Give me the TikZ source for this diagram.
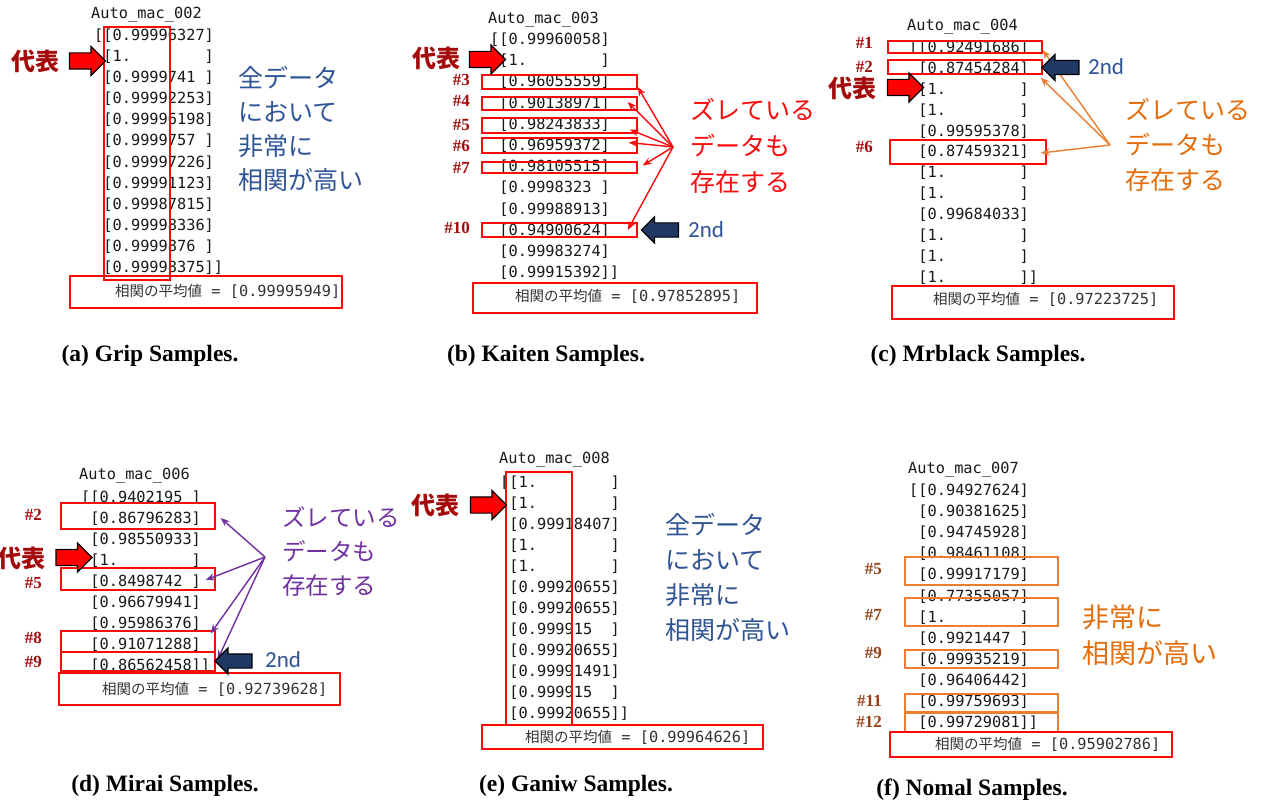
\documentclass[tikz,border=0pt]{standalone}
\usepackage{fontspec}
\setmainfont{Liberation Serif}
\newfontfamily\mono{DejaVu Sans Mono}
\newfontfamily\cjk{Noto Sans CJK JP}
\newfontfamily\sansf{Carlito}
\usetikzlibrary{shapes.arrows,arrows.meta,fit,calc}
\definecolor{boxred}{RGB}{250,10,10}
\definecolor{darkred}{RGB}{165,10,10}
\definecolor{bluetxt}{RGB}{47,84,150}
\definecolor{navy}{RGB}{31,56,100}
\definecolor{orgline}{RGB}{237,125,49}
\definecolor{orgtxt}{RGB}{228,108,10}
\definecolor{purp}{RGB}{112,48,160}
\definecolor{brownlbl}{RGB}{150,65,20}
\tikzset{
 row/.style={anchor=base west, inner sep=0, font=\mono\fontsize{15.3}{18}\selectfont, text=black!90},
 colbox/.style={draw=boxred, line width=1.6pt, inner sep=0},
 rbox/.style={draw=boxred, line width=1.4pt, inner sep=0},
 obox/.style={draw=orgline, line width=1.6pt, inner sep=0},
 meanbox/.style={draw=boxred, line width=1.8pt, inner sep=0},
 meantext/.style={anchor=west, inner sep=0, text=black!80},
 daihyo/.style={font=\cjk\bfseries\fontsize{24}{26}\selectfont, text=darkred, inner sep=0},
 redarrow/.style={single arrow, draw=black, line width=1.2pt, fill=red, minimum height=36pt, inner xsep=0pt, inner ysep=7.5pt, single arrow head extend=6.5pt},
 navyarrow/.style={single arrow, shape border rotate=180, draw=black, line width=1.2pt, fill=navy, minimum height=37pt, inner xsep=0pt, inner ysep=6.5pt, single arrow head extend=6pt},
 hashlbl/.style={anchor=east, font=\bfseries\fontsize{17}{18}\selectfont, text=darkred, inner sep=0},
 note/.style={anchor=west, align=left, inner sep=0},
 caption/.style={anchor=base, font=\bfseries\fontsize{23.5}{26}\selectfont, inner sep=0},
 fan/.style={line width=1.4pt, -{Stealth[length=9pt,width=7pt]}},
 second/.style={anchor=west, inner sep=0, font=\sansf\fontsize{23}{26}\selectfont, text=bluetxt}
}
\newcommand{\meanstr}[1]{{\cjk\fontsize{14.5}{16}\selectfont 相関の平均値}{\mono\fontsize{15.3}{16}\selectfont~=~[#1]}}
\begin{document}
\begin{tikzpicture}[x=1pt,y=-1pt]
\fill[white] (0,0) rectangle (1266,805);
\useasboundingbox (0,0) rectangle (1266,805);

%% ---------------- (a) ----------------
\node[row] (ta) at (91,18.5) {Auto\_mac\_002};
\foreach \t [count=\i from 0] in {[[0.99996327],~[1.~~~~~~~~],~[0.9999741~],~[0.99992253],~[0.99996198],~[0.9999757~],~[0.99997226],~[0.99991123],~[0.99987815],~[0.99998336],~[0.9999876~],~[0.99998375]]}
  \node[row] (a\i) at (94,{40.5+21.1*\i}) {\t};
\node[colbox, fit={(104,27) (170,280)}] (colA) {};
\node[meanbox, fit={(70,276) (342,308)}] (mboxA) {};
\node[meantext] (meanA) at (115,291) {\meanstr{0.99995949}};
\node[daihyo] (dA) at (36,61) {代表};
\node[redarrow] (arA) at (83.5,61) {};
\node[note, text=bluetxt, font=\cjk\fontsize{25}{34}\selectfont] (noteA) at (238,128.5) {全データ\\において\\非常に\\相関が高い};
\node[caption] (capA) at (150,361) {(a) Grip Samples.};

%% ---------------- (b) ----------------
\node[row] (tb) at (488,23.5) {Auto\_mac\_003};
\foreach \t [count=\i from 0] in {[[0.99960058],~[1.~~~~~~~~],~[0.96055559],~[0.90138971],~[0.98243833],~[0.96959372],~[0.98105515],~[0.9998323~],~[0.99988913],~[0.94900624],~[0.99983274],~[0.99915392]]}
  \node[row] (b\i) at (490,{44.5+21.2*\i}) {\t};
\node[rbox, fit={(482,75) (637,89)}] (bb3) {};
\node[rbox, fit={(482,97) (637,110)}] (bb4) {};
\node[rbox, fit={(482,118) (637,133)}] (bb5) {};
\node[rbox, fit={(482,138) (637,153)}] (bb6) {};
\node[rbox, fit={(482,162) (637,173)}] (bb7) {};
\node[rbox, fit={(482,223) (637,237)}] (bb10) {};
\node[hashlbl] (lb3) at (470,80) {\#3};
\node[hashlbl] (lb4) at (470,101) {\#4};
\node[hashlbl] (lb5) at (470,125) {\#5};
\node[hashlbl] (lb6) at (470,146) {\#6};
\node[hashlbl] (lb7) at (470,168) {\#7};
\node[hashlbl] (lb10) at (470,228) {\#10};
\coordinate (fanB) at (673,147);
\draw[fan, boxred] (fanB) -- ([yshift=-5pt]bb3.east);
\draw[fan, boxred] (fanB) -- ([xshift=-10pt,yshift=1.5pt]bb4.east);
\draw[fan, boxred] (fanB) -- ([xshift=-8pt,yshift=-4pt]bb5.east);
\draw[fan, boxred] (fanB) -- ([xshift=-9pt,yshift=3pt]bb6.east);
\draw[fan, boxred] (fanB) -- ([xshift=5pt,yshift=2pt]bb7.east);
\draw[fan, boxred] (fanB) -- ([xshift=-10pt]bb10.east);
\node[meanbox, fit={(473,283) (757,313)}] (mboxB) {};
\node[meantext] (meanB) at (515,296) {\meanstr{0.97852895}};
\node[daihyo] (dB) at (436,58) {代表};
\node[redarrow] (arB) at (483.5,59.5) {};
\node[navyarrow] (nvB) at (663.5,230) {};
\node[second] (sB) at (688,230) {2nd};
\node[note, text=boxred, font=\cjk\fontsize{25}{36}\selectfont] (noteB) at (690,146) {ズレている\\データも\\存在する};
\node[caption] (capB) at (546,361) {(b) Kaiten Samples.};

%% ---------------- (c) ----------------
\node[row] (tc) at (907,30.5) {Auto\_mac\_004};
\foreach \t [count=\i from 0] in {[[0.92491686],~[0.87454284],~[1.~~~~~~~~],~[1.~~~~~~~~],~[0.99595378],~[0.87459321],~[1.~~~~~~~~],~[1.~~~~~~~~],~[0.99684033],~[1.~~~~~~~~],~[1.~~~~~~~~],~[1.~~~~~~~~]]}
  \node[row] (c\i) at (909,{52.5+20.9*\i}) {\t};
\node[rbox, fit={(888,41) (1042,53)}] (cb1) {};
\node[rbox, fit={(888,60) (1042,74)}] (cb2) {};
\node[rbox, fit={(890,140) (1046,164)}] (cb6) {};
\node[hashlbl] (lc1) at (873,43) {\#1};
\node[hashlbl] (lc2) at (873,67) {\#2};
\node[hashlbl] (lc6) at (873,147) {\#6};
\coordinate (fanC) at (1110,145);
\draw[fan, orgline] (fanC) -- ([yshift=-3pt]cb1.east);
\draw[fan, orgline] (fanC) -- ([xshift=-2pt,yshift=-3pt]cb2.south east);
\draw[fan, orgline] (fanC) -- ([xshift=-6pt,yshift=-1pt]cb6.east);
\node[meanbox, fit={(892,286) (1174,319)}] (mboxC) {};
\node[meantext] (meanC) at (933,299) {\meanstr{0.97223725}};
\node[daihyo] (dC) at (852,88) {代表};
\node[redarrow] (arC) at (901.5,87.5) {};
\node[navyarrow] (nvC) at (1064,67.5) {};
\node[second] (sC) at (1088,67) {2nd};
\node[note, text=orgtxt, font=\cjk\fontsize{25}{35}\selectfont] (noteC) at (1125,145) {ズレている\\データも\\存在する};
\node[caption] (capC) at (978,361) {(c) Mrblack Samples.};

%% ---------------- (d) ----------------
\node[row] (td) at (79,479.5) {Auto\_mac\_006};
\foreach \t [count=\i from 0] in {[[0.9402195~],~[0.86796283],~[0.98550933],~[1.~~~~~~~~],~[0.8498742~],~[0.96679941],~[0.95986376],~[0.91071288],~[0.86562458]]}
  \node[row] (d\i) at (81,{502.5+21*\i}) {\t};
\node[rbox, fit={(61,503) (215,529)}] (db2) {};
\node[rbox, fit={(61,568) (215,590)}] (db5) {};
\node[rbox, fit={(61,631) (215,652)}] (db8) {};
\node[rbox, fit={(61,652) (215,671)}] (db9) {};
\node[hashlbl] (ld2) at (42,515) {\#2};
\node[hashlbl] (ld5) at (42,583) {\#5};
\node[hashlbl] (ld8) at (42,638) {\#8};
\node[hashlbl] (ld9) at (42,662) {\#9};
\coordinate (fanD) at (265,557);
\draw[fan, purp] (fanD) -- ([xshift=5pt,yshift=-2pt]db2.east);
\draw[fan, purp] (fanD) -- ([xshift=-10pt,yshift=-1pt]db5.east);
\draw[fan, purp] (fanD) -- ([xshift=-5pt,yshift=8pt]db8.east);
\draw[fan, purp] (fanD) -- ([xshift=2pt,yshift=2pt]db9.east);
\node[meanbox, fit={(59,673) (340,705)}] (mboxD) {};
\node[meantext] (meanD) at (102,689) {\meanstr{0.92739628}};
\node[daihyo] (dD) at (22,558) {代表};
\node[redarrow] (arD) at (70,557.5) {};
\node[navyarrow] (nvD) at (237,661) {};
\node[second] (sD) at (265,660) {2nd};
\node[note, text=purp, font=\cjk\fontsize{23.5}{34}\selectfont] (noteD) at (282,551) {ズレている\\データも\\存在する};
\node[caption] (capD) at (165,791) {(d) Mirai Samples.};

%% ---------------- (e) ----------------
\node[row] (te) at (499,463.5) {Auto\_mac\_008};
\foreach \t [count=\i from 0] in {[[1.~~~~~~~~],~[1.~~~~~~~~],~[0.99918407],~[1.~~~~~~~~],~[1.~~~~~~~~],~[0.99920655],~[0.99920655],~[0.999915~~],~[0.99920655],~[0.99991491],~[0.999915~~],~[0.99920655]]}
  \node[row] (e\i) at (500,{487.5+21*\i}) {\t};
\node[colbox, fit={(506,472) (572,725)}] (colE) {};
\node[meanbox, fit={(482,725) (763,749)}] (mboxE) {};
\node[meantext] (meanE) at (525,737) {\meanstr{0.99964626}};
\node[daihyo] (dE) at (435,505) {代表};
\node[redarrow] (arE) at (484.5,505) {};
\node[note, text=bluetxt, font=\cjk\fontsize{25}{35}\selectfont] (noteE) at (665,577.5) {全データ\\において\\非常に\\相関が高い};
\node[caption] (capE) at (576,791) {(e) Ganiw Samples.};

%% ---------------- (f) ----------------
\node[row] (tf) at (908,473.5) {Auto\_mac\_007};
\foreach \t [count=\i from 0] in {[[0.94927624],~[0.90381625],~[0.94745928],~[0.98461108],~[0.99917179],~[0.77355057],~[1.~~~~~~~~],~[0.9921447~],~[0.99935219],~[0.96406442],~[0.99759693],~[0.99729081]]}
  \node[row] (f\i) at (909,{495.5+21.1*\i}) {\t};
\node[obox, fit={(905,557) (1058,585)}] (fb5) {};
\node[obox, fit={(905,598) (1058,626)}] (fb7) {};
\node[obox, fit={(905,650) (1058,668)}] (fb9) {};
\node[obox, fit={(905,694) (1058,712)}] (fb11) {};
\node[obox, fit={(905,713) (1058,732)}] (fb12) {};
\node[hashlbl, text=brownlbl] (lf5) at (882,569) {\#5};
\node[hashlbl, text=brownlbl] (lf7) at (882,615) {\#7};
\node[hashlbl, text=brownlbl] (lf9) at (882,653) {\#9};
\node[hashlbl, text=brownlbl] (lf11) at (882,701) {\#11};
\node[hashlbl, text=brownlbl] (lf12) at (882,722) {\#12};
\node[meanbox, fit={(890,732) (1172,757)}] (mboxF) {};
\node[meantext] (meanF) at (935,744) {\meanstr{0.95902786}};
\node[note, text=orgtxt, font=\cjk\fontsize{27}{36}\selectfont] (noteF) at (1082,635) {非常に\\相関が高い};
\node[caption] (capF) at (972,795) {(f) Nomal Samples.};
\end{tikzpicture}
\end{document}
